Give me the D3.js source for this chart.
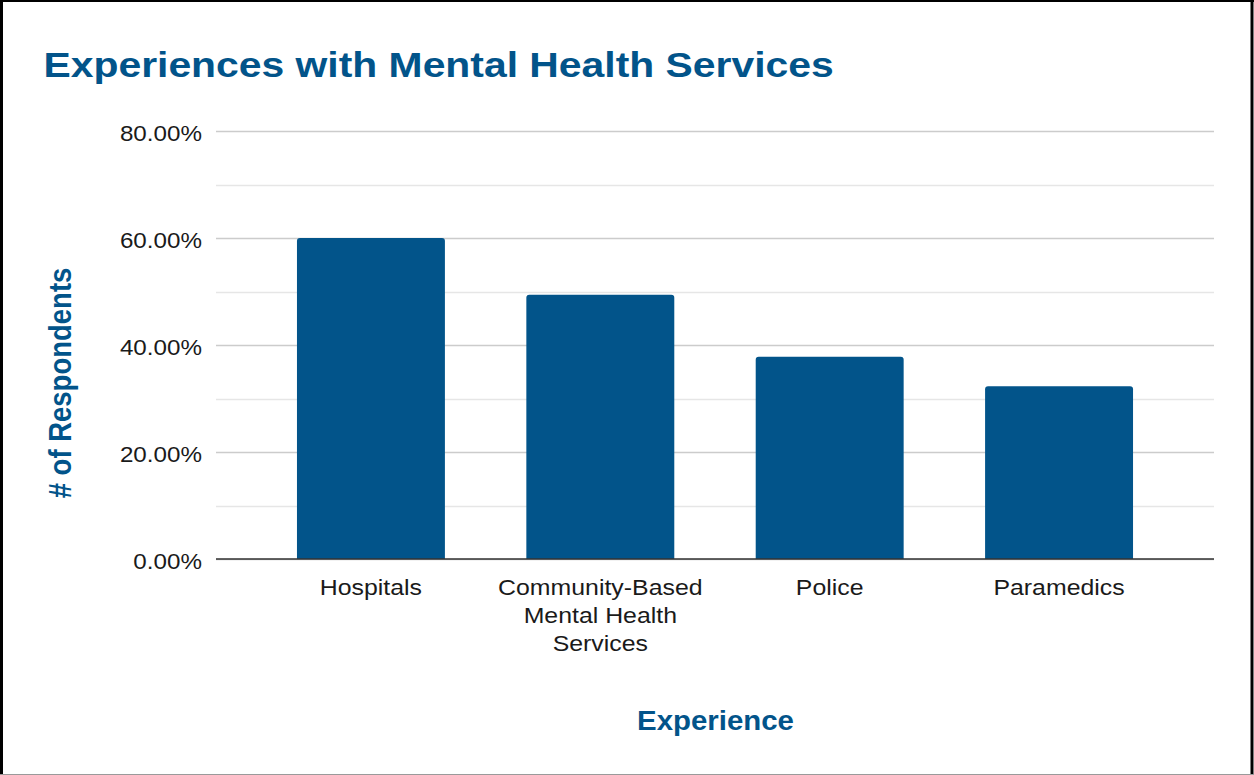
<!DOCTYPE html>
<html>
<head>
<meta charset="utf-8">
<script src="https://cdn.jsdelivr.net/npm/d3@7"></script>
<style>
  html, body { margin: 0; padding: 0; background: #fff; }
  svg { display: block; }
  svg text { font-family: "Liberation Sans", Arimo, Arial, Helvetica, sans-serif; }
</style>
</head>
<body>
<svg id="chart" width="1254" height="775"></svg>
<script>
// Chart data
const categories = ["Hospitals", "Community-Based Mental Health Services", "Police", "Paramedics"];
const categoryLines = [["Hospitals"], ["Community-Based", "Mental Health", "Services"], ["Police"], ["Paramedics"]];
const shares = [0.60, 0.494, 0.378, 0.323];
const majorTicks = [0, 0.2, 0.4, 0.6, 0.8];
const minorTicks = [0.1, 0.3, 0.5, 0.7];

const FONT = "Liberation Sans, Arimo, Arial, Helvetica, sans-serif";
const blue = "#02548a";
const svg = d3.select("#chart");
const W = 1254, H = 775;
const margin = { left: 216, right: 40, top: 131, bottom: 216 };
const plotRight = W - margin.right;
const plotBottom = H - margin.bottom;

// Frame
svg.append("rect").attr("x", 0).attr("y", 0).attr("width", W).attr("height", H).attr("fill", "#fff");
svg.append("line").attr("x1", 0).attr("x2", W).attr("y1", 774.5).attr("y2", 774.5).attr("stroke", "#9a9a9a").attr("stroke-width", 1);
svg.append("line").attr("x1", 1.5).attr("x2", 1.5).attr("y1", 0).attr("y2", 774).attr("stroke", "#000").attr("stroke-width", 3);
svg.append("line").attr("x1", 1252).attr("x2", 1252).attr("y1", 0).attr("y2", 774).attr("stroke", "#000").attr("stroke-width", 3);
svg.append("line").attr("x1", 0).attr("x2", W).attr("y1", 1).attr("y2", 1).attr("stroke", "#000").attr("stroke-width", 2);

// Scales
const x = d3.scaleBand().domain(categories).range([margin.left, plotRight]).paddingInner(0.355).paddingOuter(0.353);
const y = d3.scaleLinear().domain([0, 0.8]).range([plotBottom, margin.top]);

// Minor gridlines
svg.append("g").selectAll("line").data(minorTicks).join("line")
  .attr("x1", margin.left).attr("x2", plotRight)
  .attr("y1", d => Math.round(y(d)) + 0.5).attr("y2", d => Math.round(y(d)) + 0.5)
  .attr("stroke", "#e6e6e6").attr("stroke-width", 1.3);

// Y axis with major gridlines
const yAxis = d3.axisLeft(y).tickValues(majorTicks).tickFormat(d3.format(".2%"))
  .tickSize(-(plotRight - margin.left)).tickPadding(13);
const gy = svg.append("g").attr("transform", `translate(${margin.left},0)`).call(yAxis)
  .attr("font-family", FONT);
gy.select(".domain").remove();
gy.selectAll(".tick line").attr("stroke", "#cccccc").attr("stroke-width", 1.5);
gy.selectAll(".tick text").attr("font-size", 22.3).attr("fill", "#1a1a1a").attr("font-family", FONT)
  .attr("dy", "0.44em").attr("transform", "scale(1.085,1)");

// Bars with rounded top corners
function barPath(x0, w, yTop, yBase, r) {
  return `M${x0},${yBase}V${yTop + r}Q${x0},${yTop} ${x0 + r},${yTop}H${x0 + w - r}Q${x0 + w},${yTop} ${x0 + w},${yTop + r}V${yBase}Z`;
}
svg.append("g").selectAll("path").data(categories).join("path")
  .attr("d", (c, i) => barPath(x(c), x.bandwidth(), y(shares[i]), y(0), 3))
  .attr("fill", blue);

// Baseline
svg.append("line").attr("x1", margin.left).attr("x2", plotRight)
  .attr("y1", y(0)).attr("y2", y(0)).attr("stroke", "#333").attr("stroke-width", 1.5);

// Category labels (wrapped)
const xl = svg.append("g").attr("font-family", FONT);
categories.forEach((c, i) => {
  const cx = x(c) + x.bandwidth() / 2;
  const t = xl.append("text").attr("transform", `translate(${cx},${y(0) + 36}) scale(1.13,1)`)
    .attr("text-anchor", "middle").attr("font-size", 22).attr("fill", "#1a1a1a").attr("font-family", FONT);
  categoryLines[i].forEach((ln, j) => {
    t.append("tspan").attr("x", 0).attr("dy", j === 0 ? 0 : 28).text(ln);
  });
});

// Titles
svg.append("text").attr("transform", "translate(43.5,77) scale(1.135,1)")
  .attr("font-size", 36).attr("font-weight", "bold")
  .attr("font-family", FONT).attr("fill", blue).text("Experiences with Mental Health Services");

svg.append("text").attr("transform", "translate(71,383) scale(1.12,1) rotate(-90)")
  .attr("text-anchor", "middle").attr("font-size", 27.5).attr("font-weight", "bold")
  .attr("font-family", FONT).attr("fill", blue).text("# of Respondents");

svg.append("text").attr("transform", "translate(715.5,730) scale(1.05,1)")
  .attr("text-anchor", "middle").attr("font-size", 28).attr("font-weight", "bold")
  .attr("font-family", FONT).attr("fill", blue).text("Experience");
</script>
</body>
</html>
